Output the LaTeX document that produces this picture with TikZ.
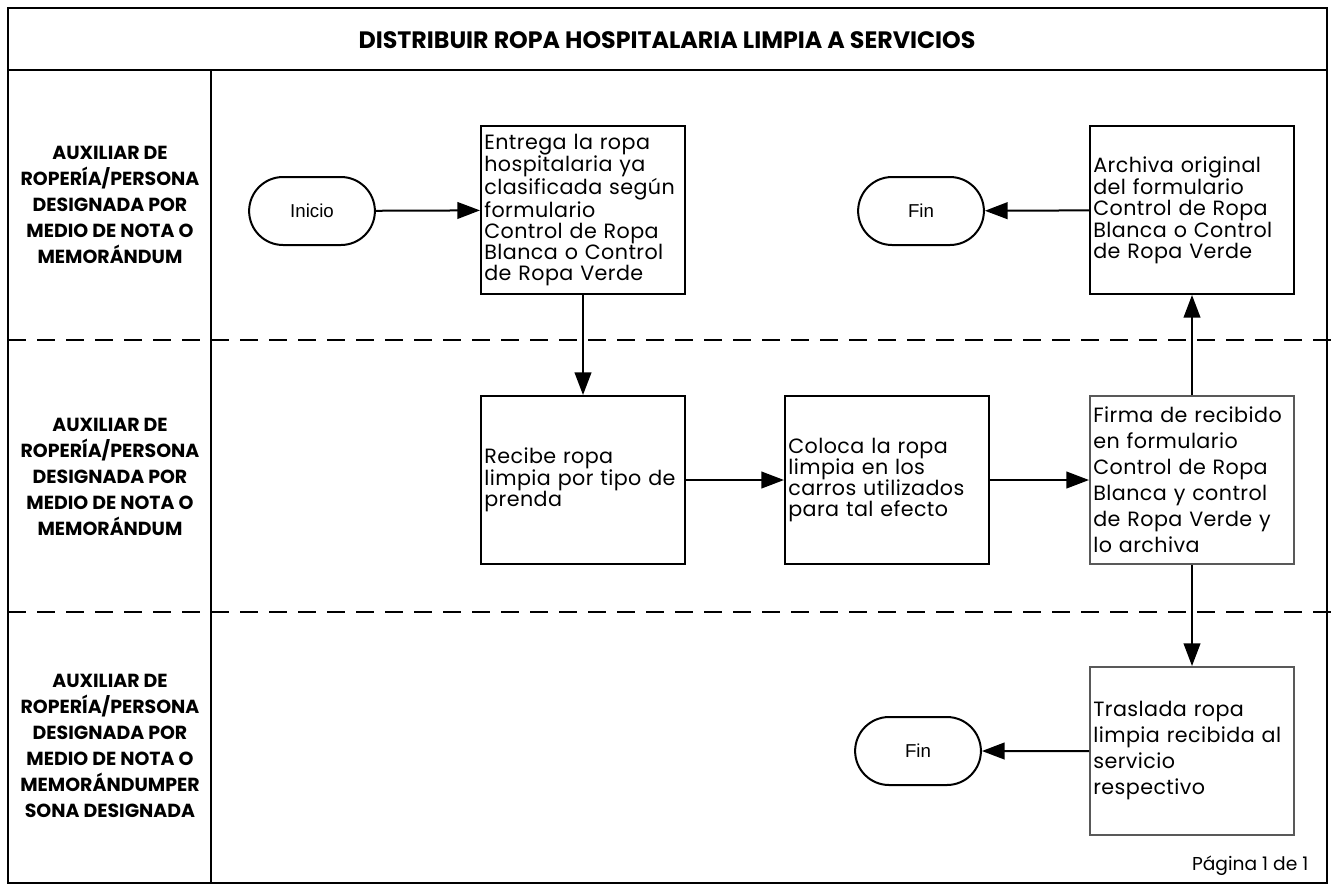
\documentclass[tikz,border=0pt]{standalone}
\usepackage{fontspec}
\setmainfont{Poppins}
\newfontfamily\arialfont{Liberation Sans}
\newfontfamily\cajafont[LetterSpace=2]{Poppins}
\usetikzlibrary{positioning,arrows.meta,shapes.misc}

\begin{document}
\begin{tikzpicture}[x=0.75pt,y=-0.75pt,
  caja/.style={draw,line width=1.5pt,minimum height=126pt,text width=148pt,inner xsep=2.5pt,align=left,font=\cajafont\fontsize{15.5}{15.9}\selectfont},
  cajagris/.style={caja,draw=black!65,font=\cajafont\fontsize{15.5}{19.5}\selectfont},
  terminal/.style={draw,line width=1.5pt,rounded rectangle,minimum width=101pt,minimum height=51pt,font=\arialfont\fontsize{14}{16}\selectfont},
  flecha/.style={line width=1.5pt,-{Triangle[length=17pt,width=12.5pt]}},
  carril/.style={align=center,font=\bfseries\fontsize{14.2}{19.5}\selectfont},
  divisor/.style={line width=1.6pt,dash pattern=on 13.5pt off 8.25pt}]
  \useasboundingbox (0,0) rectangle (1334,894);

  % Frame and lanes
  \draw[line width=2pt] (8,8) rectangle (1327,883);
  \draw[line width=2pt] (8,70) -- (1327,70);
  \draw[line width=2pt] (211,70) -- (211,883);
  \draw[divisor] (8,340) -- (1334,340);
  \draw[divisor] (8,612) -- (1334,612);

  % Title
  \node (titulo) at (667,40) {\bfseries\fontsize{17.8}{20}\selectfont DISTRIBUIR ROPA HOSPITALARIA LIMPIA A SERVICIOS};

  % Lane labels
  \node[carril] (carril1) at (110,205) {AUXILIAR DE\\ROPERÍA/PERSONA\\DESIGNADA POR\\MEDIO DE NOTA O\\MEMORÁNDUM};
  \node[carril] (carril2) at (110,477) {AUXILIAR DE\\ROPERÍA/PERSONA\\DESIGNADA POR\\MEDIO DE NOTA O\\MEMORÁNDUM};
  \node[carril] (carril3) at (110,746) {AUXILIAR DE\\ROPERÍA/PERSONA\\DESIGNADA POR\\MEDIO DE NOTA O\\MEMORÁNDUMPER\\SONA DESIGNADA};

  % First lane
  \node[terminal] (inicio) at (312,211) {Inicio};
  \node[caja] (entrega) at (583,210) {Entrega la ropa\\hospitalaria ya\\clasificada~según\\formulario\\Control de Ropa\\Blanca o Control\\de Ropa Verde};
  \node[terminal] (fin1) at (921,211) {Fin};
  \node[caja] (archiva) at (1192,210) {Archiva original\\del formulario\\Control de Ropa\\Blanca o Control\\de Ropa Verde};

  % Second lane
  \node[caja] (recibe) at (583,480) {Recibe ropa\\limpia~por~tipo~de\\prenda};
  \node[caja] (coloca) at (887,480) {Coloca la ropa\\limpia en los\\carros utilizados\\para tal efecto};
  \node[cajagris] (firma) at (1192,480) {Firma de recibido\\en formulario\\Control de Ropa\\Blanca y control\\de Ropa Verde y\\lo archiva};

  % Third lane
  \node[cajagris] (traslada) at (1192,751) {Traslada ropa\\limpia~recibida~al\\servicio\\respectivo};
  \node[terminal] (fin2) at (918,751) {Fin};

  % Connectors
  \draw[flecha] (inicio) -- (entrega);
  \draw[flecha] (entrega) -- (recibe);
  \draw[flecha] (recibe) -- (coloca);
  \draw[flecha] (coloca) -- (firma);
  \draw[flecha] (firma) -- (archiva);
  \draw[flecha] (archiva) -- (fin1);
  \draw[flecha] (firma) -- (traslada);
  \draw[flecha] (traslada) -- (fin2);

  % Page number
  \node[anchor=base east,font=\fontsize{14}{16}\selectfont] (pagina) at (1313,870) {Página 1 de 1};
\end{tikzpicture}
\end{document}
